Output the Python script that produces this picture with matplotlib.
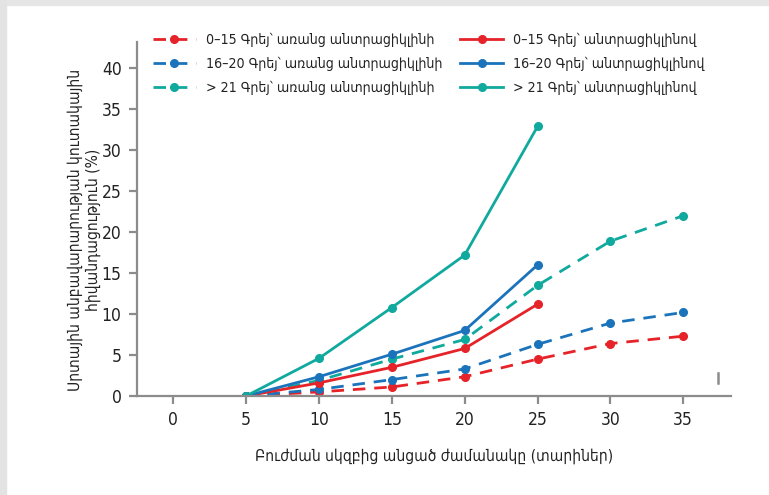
import matplotlib.pyplot as plt
from matplotlib.patches import Rectangle

plt.rcParams['font.family'] = ['DejaVu Sans']
plt.rcParams['font.stretch'] = 'condensed'

years = [5, 10, 15, 20, 25, 30, 35]
years_with = [5, 10, 15, 20, 25]

# without anthracyclines (dashed)
g1_without = [0, 0.5, 1.1, 2.35, 4.5, 6.4, 7.3]
g2_without = [0, 0.8, 2.0, 3.3, 6.3, 8.9, 10.2]
g3_without = [0, 1.9, 4.5, 6.9, 13.5, 18.9, 22.0]
# with anthracyclines (solid)
g1_with = [0, 1.6, 3.5, 5.8, 11.2]
g2_with = [0, 2.35, 5.1, 8.0, 16.0]
g3_with = [0, 4.6, 10.8, 17.2, 32.9]

groups = ['0–15 Գրեյ՝', '16–20 Գրեյ՝', '> 21 Գրեյ՝']
colors = ['#e52329', '#1b74bb', '#10a99e']

fig = plt.figure(figsize=(7.69, 4.95), dpi=100)
fig.patches.append(Rectangle((0, 0.99), 1, 0.01, transform=fig.transFigure,
                             color='#e6e6e6', zorder=0))
fig.patches.append(Rectangle((0, 0), 0.008, 1, transform=fig.transFigure,
                             color='#e3e3e3', zorder=0))
ax = fig.add_axes([0.178, 0.2, 0.773, 0.715])

handles = []
for name, c, ys in zip(groups, colors, [g1_without, g2_without, g3_without]):
    h, = ax.plot(years, ys, color=c, lw=2.0, ls=(0, (4.5, 3.2)), marker='o',
                 ms=5.5, label=name + ' առանց անտրացիկլինի')
    handles.append(h)
for name, c, ys in zip(groups, colors, [g1_with, g2_with, g3_with]):
    h, = ax.plot(years_with, ys, color=c, lw=2.0, marker='o', ms=5.5,
                 label=name + ' անտրացիկլինով')
    handles.append(h)

ax.set_xlim(-2.5, 38.3)
ax.set_ylim(0, 43.2)
ax.set_xticks(range(0, 40, 5))
ax.set_yticks(range(0, 45, 5))
for s in ['top', 'right']:
    ax.spines[s].set_visible(False)
for s in ['left', 'bottom']:
    ax.spines[s].set_color('#8c8c8c')
    ax.spines[s].set_linewidth(1.6)
ax.tick_params(colors='#8c8c8c', width=1.6, length=6, labelcolor='#222222',
               labelsize=12.5, pad=5)
ax.spines['left'].set_zorder(0)

# small stray mark at lower right
ax.plot([0.978, 0.978], [0.037, 0.065], transform=ax.transAxes,
        color='#8c8c8c', lw=1.8, clip_on=False)

ax.set_xlabel('Բուժման սկզբից անցած ժամանակը (տարիներ)', fontsize=11.2,
              color='#222222', labelpad=14)
fig.text(0.11, 0.535, 'Սրտային անբավարարության կուտակային\nհիվանդացություն (%)',
         fontsize=11.2, color='#222222', rotation=90, ha='center', va='center',
         multialignment='center', linespacing=1.2)

leg = fig.legend(handles=handles, ncol=2, loc='upper left',
                 bbox_to_anchor=(0.19, 0.948), frameon=False, fontsize=10.2,
                 handlelength=3.0, handletextpad=0.7, columnspacing=1.3,
                 labelspacing=0.7, borderpad=0)
for t in leg.get_texts():
    t.set_color('#222222')

fig.savefig('out.png', dpi=100)
